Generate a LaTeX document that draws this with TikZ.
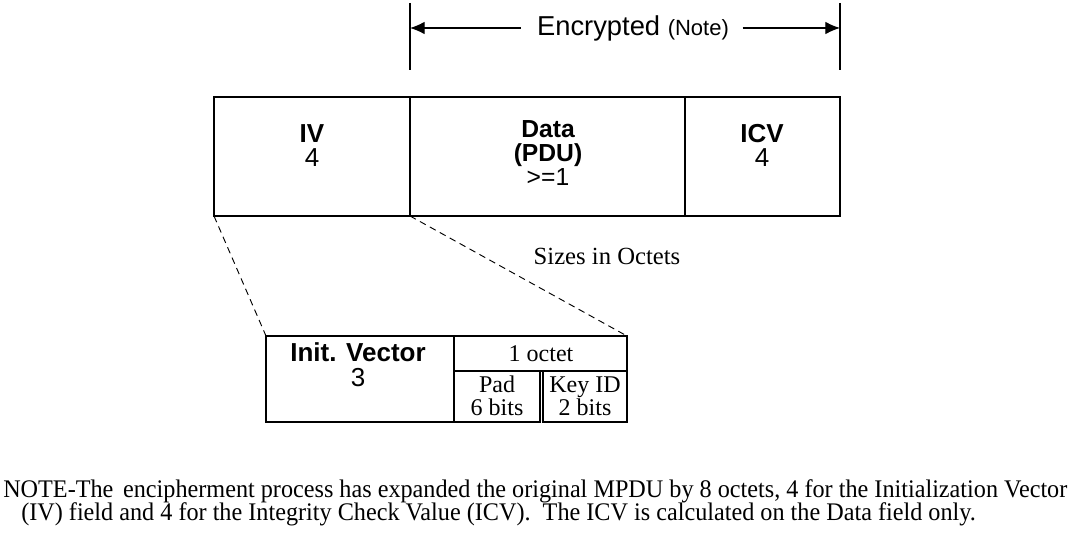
\documentclass[tikz,border=0pt]{standalone}
\usepackage{graphicx}
\usepackage{fontspec}
\setmainfont{Liberation Serif}
\setsansfont{Liberation Sans}
\usetikzlibrary{arrows.meta,fit}
\newlength\notelen
\newcommand\notefont{\rmfamily\fontsize{19}{20}\selectfont}
\newcommand\notelineone{NOTE-The\hspace{0.4em}encipherment process has expanded the original MPDU by 8 octets, 4 for the Initialization Vector}
\newcommand\notelinetwo{(IV) field and 4 for the Integrity Check Value (ICV).\ \ The ICV is calculated on the Data field only.}
\begin{document}
\settowidth\notelen{\notefont\notelineone}%
\pgfmathsetmacro\sq{798/\notelen}%
\begin{tikzpicture}[x=0.75pt,y=-0.75pt,
  box/.style={draw, line width=1.2pt, inner sep=0pt, outer sep=0pt},
  sanslab/.style={font=\sffamily\fontsize{19.5}{21}\selectfont, inner sep=0pt, anchor=base},
  datalab/.style={font=\sffamily\fontsize{18.5}{21}\selectfont, inner sep=0pt, anchor=base},
  seriflab/.style={font=\rmfamily\fontsize{18}{20}\selectfont, inner sep=0pt, anchor=base},
  zoomline/.style={line width=0.7pt, dash pattern=on 5pt off 3.5pt},
  dimline/.style={line width=1.1pt},
  dimarrow/.style={line width=0.9pt, -{Latex[length=11pt,width=9.5pt]}}]
\useasboundingbox (0,0) rectangle (1071,534);
\fill[white] (0,0) rectangle (1071,534);

% top row
\node[box, fit={(214,97) (410,216)}] (iv) {};
\node[box, fit={(410,97) (685,216)}] (data) {};
\node[box, fit={(685,97) (840,216)}] (icv) {};

\node[sanslab] (ivn) at (312,143) {\bfseries IV};
\node[sanslab] (ivs) at (312,167) {4};
\node[datalab] (datan) at (548,138) {\bfseries Data};
\node[datalab] (datap) at (548,162) {\bfseries (PDU)};
\node[datalab] (datas) at (548,186) {>=1};
\node[sanslab] (icvn) at (762,143) {\bfseries ICV};
\node[sanslab] (icvs) at (762,167) {4};

% encrypted span
\coordinate (lt) at (410,3);
\coordinate (lb) at (410,70);
\coordinate (rt) at (840,3);
\coordinate (rb) at (840,70);
\coordinate (la) at (410,28);
\coordinate (ra) at (840,28);
\draw[dimline] (lt) -- (lb);
\draw[dimline] (rt) -- (rb);
\node[inner sep=0pt, anchor=base] (enc) at (633,36)
  {\sffamily\fontsize{20.5}{24}\selectfont Encrypted {\fontsize{16.5}{19}\selectfont (Note)}};
\draw[dimarrow] ([xshift=-12pt]enc.west |- la) -- (la);
\draw[dimarrow] ([xshift=10pt]enc.east |- ra) -- (ra);

% sizes
\node[seriflab, font=\rmfamily\fontsize{18.5}{22}\selectfont] (sizes) at (607,265) {Sizes in Octets};

% bottom row
\node[box, fit={(266,336) (454,422)}] (init) {};
\node[box, fit={(454,336) (627,371)}] (octet) {};
\node[box, fit={(454,371) (540,422)}] (pad) {};
\node[box, fit={(543,371) (627,422)}] (key) {};

\node[sanslab] (initn) at (358,362) {\bfseries Init. Vector};
\node[sanslab] (inits) at (358,387) {3};
\node[seriflab] (octn) at (541,362) {1 octet};
\node[seriflab] (padn) at (497,393) {Pad};
\node[seriflab] (pads) at (497,416) {6 bits};
\node[seriflab] (keyn) at (585,393) {Key ID};
\node[seriflab] (keys) at (585,416) {2 bits};

% zoom lines
\draw[zoomline] (iv.south west) -- (init.north west);
\draw[zoomline] (iv.south east) -- (octet.north east);

% note
\node[inner sep=0pt, anchor=base west] (note1) at (3,497)
  {\scalebox{\sq}[1]{\notefont\notelineone}};
\node[inner sep=0pt, anchor=base west] (note2) at (21,520)
  {\scalebox{\sq}[1]{\notefont\notelinetwo}};
\end{tikzpicture}
\end{document}
